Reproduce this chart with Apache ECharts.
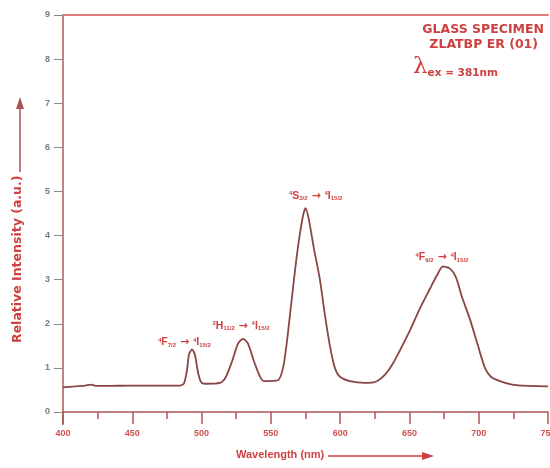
<!DOCTYPE html>
<html><head><meta charset="utf-8">
<script src="https://cdn.jsdelivr.net/npm/echarts@6/dist/echarts.min.js"></script>
<style>html,body{margin:0;padding:0;background:#fff}#c{width:550px;height:468px}</style>
</head><body><div id="c"></div>
<script>
var wavelengths = [400,408.7,415.9,420.2,424.5,430.3,448.3,470,484.4,487.3,489.5,490.9,493.1,495.2,497.4,499.6,502.5,513.3,517.6,522,526.3,529.9,533.5,537.8,542.2,545,555.1,558.8,561.6,564.5,567.4,570.3,573.2,575.1,577.5,581.1,585.4,589,592.6,596.2,599.9,607.1,617.9,625.1,632.4,638.1,643.2,650.4,657.6,664.9,669.9,674.2,679.3,683.6,688,693.7,699.5,704.5,708.8,715.3,724,737,750];
var intensity = [0.56,0.58,0.6,0.62,0.59,0.59,0.6,0.6,0.6,0.65,0.95,1.3,1.42,1.3,0.9,0.68,0.64,0.66,0.8,1.15,1.55,1.66,1.55,1.15,0.8,0.7,0.72,1.0,1.6,2.4,3.2,3.9,4.45,4.62,4.35,3.7,3.0,2.2,1.5,1.0,0.8,0.7,0.66,0.68,0.85,1.1,1.4,1.85,2.35,2.8,3.1,3.3,3.25,3.05,2.6,2.1,1.5,1.0,0.8,0.7,0.62,0.59,0.58];
var xTicks = [400,450,500,550,600,650,700,750];
var yTicks = [0,1,2,3,4,5,6,7,8,9];
var peakLabels = [
  {w:490.5, v:1.42, sup1:'4', t1:'F', sub1:'7/2', sup2:'4', t2:'I', sub2:'15/2'},
  {w:529.9, v:1.66, sup1:'2', t1:'H', sub1:'11/2', sup2:'4', t2:'I', sub2:'15/2'},
  {w:575.1, v:4.62, sup1:'4', t1:'S', sub1:'3/2', sup2:'4', t2:'I', sub2:'15/2'},
  {w:674.2, v:3.3, sup1:'4', t1:'F', sub1:'9/2', sup2:'4', t2:'I', sub2:'15/2'}
];
var titleLines = ['GLASS SPECIMEN', 'ZLATBP ER (01)'];
var excitation = 'ex = 381nm';

var FONT = 'Liberation Sans, Arial, sans-serif';
var WIDE = 'DejaVu Sans, sans-serif';
var RED = '#cf4040';
var AXIS = '#a85858';
var CURVE = '#8a4545';

var chart = echarts.init(document.getElementById('c'));
var data = wavelengths.map(function(w,i){return [w,intensity[i]];});
var labelOffsets = [[-4,-7],[-2,-13],[10,-12],[-1,-9]];
var mp = peakLabels.map(function(p,i){
  return {coord:[p.w,p.v], symbol:'circle', symbolSize:1, itemStyle:{color:'rgba(0,0,0,0)'},
    label:{show:true, position:'inside', offset:labelOffsets[i],
    formatter:'{sp|'+p.sup1+'}{m|'+p.t1+'}{sb|'+p.sub1+'}{a| → }{sp|'+p.sup2+'}{m|'+p.t2+'}{sb|'+p.sub2+'}'}};
});
chart.setOption({
  animation:false,
  backgroundColor:'#fff',
  grid:{left:63,right:2,top:15,bottom:56,outerBoundsMode:'none',containLabel:false},
  xAxis:[{
    type:'value', min:400, max:750, interval:50,
    axisLine:{lineStyle:{color:AXIS,width:1.5}},
    axisTick:{length:12, lineStyle:{color:AXIS,width:1.5}},
    minorTick:{show:true, splitNumber:2, length:7, lineStyle:{color:AXIS,width:1.5}},
    splitLine:{show:false},
    axisLabel:{color:'#d05050', fontSize:9, fontWeight:'bold', fontFamily:FONT, margin:17, hideOverlap:false,
      formatter:function(v){return xTicks.indexOf(v)>=0? String(v):'';}}
  },{
    type:'value', position:'top', min:400, max:750,
    axisLine:{show:true, lineStyle:{color:'#e07a7a',width:2}},
    axisTick:{show:false}, axisLabel:{show:false}, splitLine:{show:false}
  }],
  yAxis:{
    type:'value', min:0, max:9, interval:1,
    axisLine:{show:true, lineStyle:{color:AXIS,width:1.5}},
    axisTick:{show:true, length:9, lineStyle:{color:'#888',width:1}},
    splitLine:{show:false},
    axisLabel:{color:'#7a7a7a', fontSize:9, fontWeight:'bold', fontFamily:FONT, margin:13,
      formatter:function(v){return yTicks.indexOf(v)>=0? String(v):'';}}
  },
  series:[{
    type:'line', data:data, symbol:'none', smooth:0.25,
    lineStyle:{color:CURVE, width:1.8},
    markPoint:{data:mp, label:{color:RED, fontFamily:FONT,
      rich:{
        m:{fontSize:10.5, fontWeight:'bold', color:RED, fontFamily:FONT},
        a:{fontSize:11, fontWeight:'bold', color:RED, fontFamily:WIDE},
        sp:{fontSize:6, fontWeight:'bold', color:RED, verticalAlign:'top', fontFamily:FONT},
        sb:{fontSize:6, fontWeight:'bold', color:RED, verticalAlign:'bottom', fontFamily:FONT}
      }}}
  }],
  graphic:[
    {type:'line', shape:{x1:63,y1:412,x2:63,y2:425}, style:{stroke:AXIS, lineWidth:1.5}},
    {type:'text', right:6, top:23, style:{text:titleLines[0], fill:RED, font:'bold 12.5px '+WIDE}},
    {type:'text', right:12, top:38, style:{text:titleLines[1], fill:RED, font:'bold 12.5px '+WIDE}},
    {type:'text', left:413, top:56, style:{text:'{l|λ}{e|'+excitation+'}',
      rich:{l:{fontSize:23, fill:RED, fontFamily:'DejaVu Serif'}, e:{fontSize:10.5, fontWeight:'bold', fill:RED, fontFamily:WIDE, verticalAlign:'bottom'}}}},
    {type:'text', left:236, top:449, style:{text:'Wavelength (nm)', fill:RED, font:'bold 11px '+FONT}},
    {type:'line', shape:{x1:328,y1:456,x2:424,y2:456}, style:{stroke:RED, lineWidth:1.5}},
    {type:'polygon', shape:{points:[[434,456],[422,452],[422,460]]}, style:{fill:RED}},
    {type:'text', x:11, y:343, rotation:Math.PI/2, style:{text:'Relative Intensity (a.u.)', fill:RED, font:'bold 12.5px '+WIDE}},
    {type:'line', shape:{x1:20,y1:172,x2:20,y2:108}, style:{stroke:'#b05050', lineWidth:1.5}},
    {type:'polygon', shape:{points:[[20,97],[16,109],[24,109]]}, style:{fill:'#b05050'}}
  ]
});
</script></body></html>
